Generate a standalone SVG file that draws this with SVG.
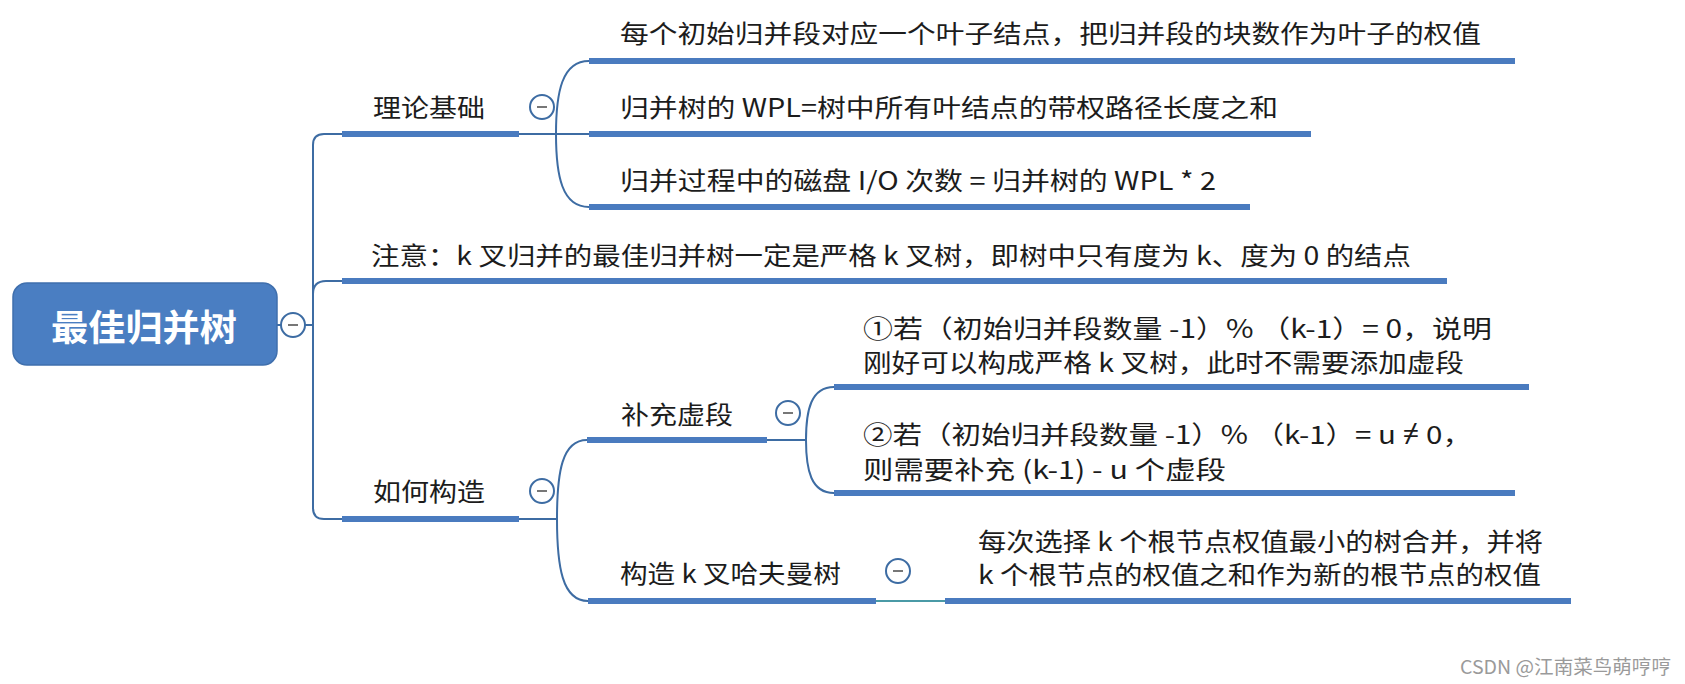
<svg xmlns="http://www.w3.org/2000/svg" width="1685" height="684" viewBox="0 0 1685 684">
<style>
.t{font-family:"Noto Sans CJK SC","Noto Sans",sans-serif;font-size:25px;fill:#1c1c1c;dominant-baseline:central}
.root{font-family:"Noto Sans CJK SC","Noto Sans",sans-serif;font-size:36px;font-weight:bold;fill:#ffffff;dominant-baseline:central}
.ul{stroke:#4a7bbf;stroke-width:6;fill:none}
.cn{stroke:#3d6ca3;stroke-width:2;fill:none}
.cb circle{fill:#ffffff;stroke:#3d6ca3;stroke-width:2}
.cb line{stroke:#777;stroke-width:2}
.wm{font-family:"Noto Sans CJK SC","Noto Sans",sans-serif;font-size:19px;fill:#9a9a9a;dominant-baseline:central}
.lat{font-family:"Noto Sans","DejaVu Sans",sans-serif}
</style>
<rect width="1685" height="684" fill="#ffffff"/>
<g id="connectors">
<path class="cn" d="M277 325 H313"/>
<path class="cn" d="M342 134 H324 Q313 134 313 145 V508 Q313 519 324 519 H342"/>
<path class="cn" d="M313 294 Q313 281 326 281 H342"/>
<path class="cn" d="M519 134 H589"/>
<path class="cn" d="M589 61 C562 61 556 92 556 134 C556 176 562 207 589 207"/>
<path class="cn" d="M519 519 H557"/>
<path class="cn" d="M587 440 C562 440 557 472 557 519 C557 566 562 601 588 601"/>
<path class="cn" d="M767 440 H806"/>
<path class="cn" d="M834 387 C811 387 806 410 806 440 C806 470 811 493 834 493"/>
<path d="M876 601 H945" stroke="#4a9aa6" stroke-width="2" fill="none"/>
</g>
<g id="root">
<rect x="13" y="283" width="264" height="82" rx="14" fill="#4a7ec2" stroke="#3f6fad" stroke-width="1.5"/>
<text class="root" x="51" y="325" textLength="186" lengthAdjust="spacingAndGlyphs">最佳归并树</text>
<g class="cb"><circle cx="293" cy="325" r="12"/><line x1="288" y1="325" x2="298" y2="325"/></g>
</g>
<g id="n-theory">
<text class="t" x="373" y="106" textLength="112" lengthAdjust="spacingAndGlyphs">理论基础</text>
<line class="ul" x1="342" y1="134" x2="519" y2="134"/>
<g class="cb"><circle cx="542" cy="107" r="12"/><line x1="537" y1="107" x2="547" y2="107"/></g>
</g>
<g id="n-leaf1">
<text class="t" x="620" y="32" textLength="861" lengthAdjust="spacingAndGlyphs">每个初始归并段对应一个叶子结点，把归并段的块数作为叶子的权值</text>
<line class="ul" x1="589" y1="61" x2="1515" y2="61"/>
</g>
<g id="n-leaf2">
<text class="t" x="620" y="106" textLength="658" lengthAdjust="spacingAndGlyphs">归并树的 WPL=树中所有叶结点的带权路径长度之和</text>
<line class="ul" x1="589" y1="134" x2="1311" y2="134"/>
</g>
<g id="n-leaf3">
<text class="t" x="620" y="179" textLength="596" lengthAdjust="spacingAndGlyphs">归并过程中的磁盘 I/O 次数 = 归并树的 WPL * 2</text>
<line class="ul" x1="589" y1="207" x2="1250" y2="207"/>
</g>
<g id="n-note">
<text class="t" x="371" y="254" textLength="1040" lengthAdjust="spacingAndGlyphs">注意：k 叉归并的最佳归并树一定是严格 k 叉树，即树中只有度为 k、度为 0 的结点</text>
<line class="ul" x1="342" y1="281" x2="1447" y2="281"/>
</g>
<g id="n-how">
<text class="t" x="373" y="490" textLength="112" lengthAdjust="spacingAndGlyphs">如何构造</text>
<line class="ul" x1="342" y1="519" x2="519" y2="519"/>
<g class="cb"><circle cx="542" cy="491" r="12"/><line x1="537" y1="491" x2="547" y2="491"/></g>
</g>
<g id="n-pad">
<text class="t" x="621" y="413" textLength="112" lengthAdjust="spacingAndGlyphs">补充虚段</text>
<line class="ul" x1="587" y1="440" x2="767" y2="440"/>
<g class="cb"><circle cx="788" cy="413" r="12"/><line x1="783" y1="413" x2="793" y2="413"/></g>
</g>
<g id="n-pad1">
<text class="t" x="863" y="327" textLength="629" lengthAdjust="spacingAndGlyphs">①若（初始归并段数量 -1）% （k-1）= 0，说明</text>
<text class="t" x="863" y="361" textLength="601" lengthAdjust="spacingAndGlyphs">刚好可以构成严格 k 叉树，此时不需要添加虚段</text>
<line class="ul" x1="834" y1="387" x2="1529" y2="387"/>
</g>
<g id="n-pad2">
<text class="t" x="863" y="433" textLength="609" lengthAdjust="spacingAndGlyphs">②若（初始归并段数量 -1）% （k-1）= u <tspan class="lat">≠</tspan> 0，</text>
<text class="t" x="863" y="468" textLength="363" lengthAdjust="spacingAndGlyphs">则需要补充 (k-1) - u 个虚段</text>
<line class="ul" x1="834" y1="493" x2="1515" y2="493"/>
</g>
<g id="n-huff">
<text class="t" x="620" y="572" textLength="221" lengthAdjust="spacingAndGlyphs">构造 k 叉哈夫曼树</text>
<line class="ul" x1="588" y1="601" x2="876" y2="601"/>
<g class="cb"><circle cx="898" cy="571" r="12"/><line x1="893" y1="571" x2="903" y2="571"/></g>
</g>
<g id="n-huff1">
<text class="t" x="978" y="540" textLength="565" lengthAdjust="spacingAndGlyphs">每次选择 k 个根节点权值最小的树合并，并将</text>
<text class="t" x="978" y="573" textLength="563" lengthAdjust="spacingAndGlyphs">k 个根节点的权值之和作为新的根节点的权值</text>
<line class="ul" x1="945" y1="601" x2="1571" y2="601"/>
</g>
<text class="wm" x="1460" y="665" textLength="211" lengthAdjust="spacingAndGlyphs">CSDN @江南菜鸟萌哼哼</text>
</svg>
